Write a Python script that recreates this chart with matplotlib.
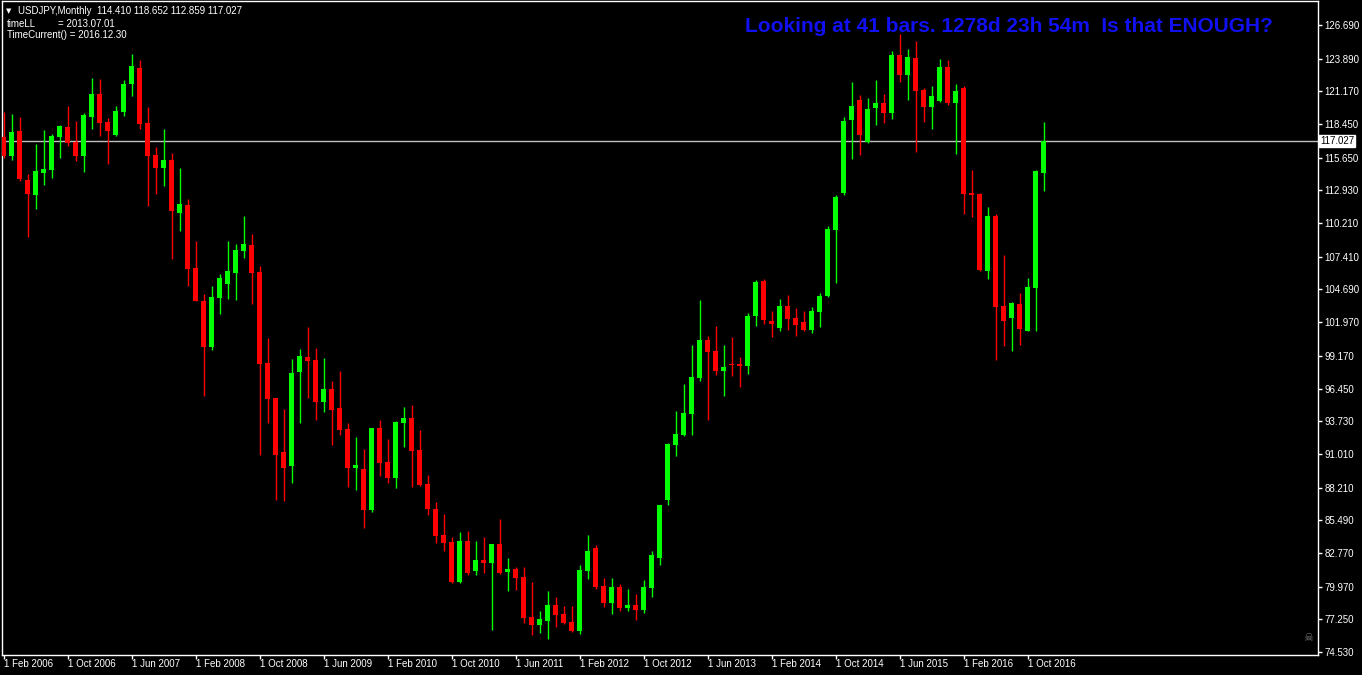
import matplotlib
matplotlib.use("Agg")
import matplotlib.pyplot as plt
import matplotlib.transforms as mtransforms
import numpy as np

# ---------------- data (USDJPY monthly, Feb 2006 .. Dec 2016) ----------------
opens = [117.35, 115.79, 117.87, 113.80, 112.55, 114.38, 114.63, 117.37, 118.20, 116.96,
         115.79, 119.04, 120.95, 118.62, 117.54, 119.45, 121.78, 123.11, 118.54, 115.87,
         114.79, 115.46, 111.05, 111.72, 106.48, 103.73, 99.90, 103.98, 105.14, 106.06,
         107.89, 108.39, 106.14, 98.57, 95.66, 91.17, 90.00, 97.82, 99.07, 98.82,
         95.33, 96.41, 94.83, 93.08, 89.87, 89.75, 86.34, 93.17, 90.34, 89.01,
         93.58, 94.00, 91.33, 88.51, 86.43, 84.26, 83.68, 80.35, 83.76, 81.27,
         82.18, 81.93, 83.51, 81.19, 81.44, 80.77, 77.44, 76.78, 77.11, 78.44,
         77.69, 77.03, 76.28, 81.27, 83.18, 80.02, 78.61, 79.94, 78.19, 78.44,
         78.02, 79.85, 82.35, 87.18, 91.75, 92.58, 94.33, 97.32, 100.49, 99.57,
         97.91, 98.49, 98.49, 98.32, 102.48, 105.39, 102.07, 101.48, 103.31, 102.32,
         101.98, 101.32, 102.81, 104.15, 109.63, 112.71, 118.79, 120.45, 116.96, 119.79,
         120.20, 119.37, 124.19, 122.53, 123.94, 121.28, 119.87, 120.37, 123.20, 120.20,
         121.45, 112.71, 112.63, 106.23, 110.80, 103.31, 102.32, 103.48, 101.23, 104.81,
         114.410]
highs = [119.48, 119.29, 119.04, 114.30, 116.79, 117.95, 117.62, 118.37, 119.95, 118.70,
         119.37, 122.28, 122.20, 118.95, 119.95, 122.11, 124.28, 123.78, 119.87, 116.54,
         118.04, 116.04, 114.79, 112.22, 108.72, 104.31, 104.98, 105.98, 108.72, 108.47,
         110.80, 109.30, 106.64, 100.65, 95.70, 94.75, 98.91, 99.74, 101.57, 99.82,
         98.99, 97.08, 97.91, 93.58, 92.42, 91.42, 93.20, 93.83, 92.25, 93.75,
         94.91, 95.08, 93.00, 89.25, 87.01, 86.01, 84.10, 84.51, 84.60, 83.76,
         84.10, 83.55, 85.59, 82.35, 81.60, 81.60, 80.35, 77.94, 79.60, 79.11,
         78.36, 78.36, 81.77, 84.26, 83.43, 80.69, 80.69, 80.19, 79.77, 79.36,
         80.52, 82.93, 86.80, 91.92, 94.58, 96.83, 100.07, 103.81, 100.82, 101.65,
         100.07, 100.74, 99.07, 102.73, 105.48, 105.56, 102.90, 103.90, 104.23, 103.15,
         102.90, 103.23, 104.40, 109.97, 112.55, 119.04, 121.95, 120.87, 120.62, 122.11,
         120.95, 124.53, 125.94, 124.69, 125.36, 121.45, 121.62, 123.86, 123.78, 121.78,
         121.62, 114.62, 112.71, 111.55, 110.97, 107.56, 103.65, 104.40, 105.64, 114.62,
         118.652]
lows = [115.60, 115.46, 113.71, 109.08, 111.38, 113.38, 113.96, 115.62, 116.62, 115.38,
        114.46, 118.04, 117.46, 115.13, 117.46, 119.12, 120.78, 118.04, 111.63, 112.63,
        113.30, 107.22, 109.55, 104.98, 103.70, 95.83, 99.65, 102.65, 103.90, 103.81,
        107.31, 103.48, 90.92, 93.58, 87.17, 87.09, 88.59, 93.58, 95.66, 93.83,
        94.50, 91.75, 92.58, 88.26, 88.03, 84.87, 86.18, 89.17, 88.59, 88.20,
        91.58, 88.26, 88.34, 85.93, 83.60, 82.93, 80.27, 80.30, 80.94, 80.94,
        81.10, 76.36, 81.05, 79.60, 79.69, 76.94, 75.95, 76.11, 75.61, 76.61,
        76.86, 76.19, 76.03, 80.60, 79.77, 78.27, 77.69, 77.94, 77.94, 77.19,
        77.77, 79.11, 81.77, 86.76, 90.84, 92.50, 92.58, 97.07, 93.83, 97.57,
        95.83, 97.49, 96.57, 97.66, 101.65, 101.82, 100.74, 101.23, 101.32, 100.82,
        101.23, 101.07, 101.57, 104.10, 105.23, 112.55, 115.54, 115.87, 116.87, 118.37,
        118.54, 118.87, 121.95, 120.45, 116.12, 118.62, 118.04, 120.28, 120.03, 115.96,
        110.97, 110.72, 106.25, 105.56, 98.82, 99.99, 99.57, 100.07, 101.20, 101.23,
        112.859]
closes = [115.79, 117.79, 113.88, 112.63, 114.54, 114.71, 117.46, 118.29, 116.87, 115.79,
          119.20, 120.95, 118.54, 117.87, 119.54, 121.78, 123.28, 118.45, 115.79, 114.79,
          115.46, 111.22, 111.80, 106.39, 103.73, 99.90, 104.06, 105.64, 106.23, 107.97,
          108.47, 106.06, 98.49, 95.58, 90.92, 89.84, 97.74, 99.15, 98.74, 95.33,
          96.41, 94.66, 93.00, 89.84, 90.06, 86.34, 93.17, 90.25, 89.01, 93.66,
          94.00, 91.25, 88.42, 86.43, 84.18, 83.60, 80.35, 83.76, 81.10, 82.18,
          81.93, 83.51, 81.10, 81.44, 80.69, 77.36, 76.78, 77.28, 78.44, 77.61,
          76.94, 76.28, 81.35, 82.93, 79.94, 78.61, 79.94, 78.19, 78.44, 78.02,
          79.94, 82.60, 86.76, 91.83, 92.66, 94.41, 97.41, 100.49, 99.49, 97.91,
          98.24, 98.41, 98.32, 102.48, 105.31, 102.15, 101.82, 103.31, 102.23, 101.73,
          101.32, 102.90, 104.15, 109.72, 112.38, 118.70, 119.95, 117.54, 119.70, 120.20,
          119.37, 124.19, 122.53, 124.03, 121.20, 119.87, 120.78, 123.20, 120.20, 121.20,
          112.63, 112.55, 106.31, 110.80, 103.23, 102.07, 103.56, 101.40, 104.90, 114.54,
          117.027]

x_tick_index = [0, 8, 16, 24, 32, 40, 48, 56, 64, 72, 80, 88, 96, 104, 112, 120, 128]
x_tick_labels = ["1 Feb 2006", "1 Oct 2006", "1 Jun 2007", "1 Feb 2008", "1 Oct 2008",
                 "1 Jun 2009", "1 Feb 2010", "1 Oct 2010", "1 Jun 2011", "1 Feb 2012",
                 "1 Oct 2012", "1 Jun 2013", "1 Feb 2014", "1 Oct 2014", "1 Jun 2015",
                 "1 Feb 2016", "1 Oct 2016"]
y_ticks = [126.690, 123.890, 121.170, 118.450, 115.650, 112.930, 110.210, 107.410,
           104.690, 101.970, 99.170, 96.450, 93.730, 91.010, 88.210, 85.490, 82.770,
           79.970, 77.250, 74.530]
current_price = 117.027
header = "USDJPY,Monthly  114.410 118.652 112.859 117.027"
title_text = "Looking at 41 bars. 1278d 23h 54m  Is that ENOUGH?"

# ---------------- figure ----------------
W, H = 1362, 675
fig = plt.figure(figsize=(W / 100, H / 100), dpi=100, facecolor="black")

def px(x, y):
    return x / W, 1 - y / H

ax_l, ax_r, ax_t, ax_b = 2, 1318, 1, 655
ax = fig.add_axes([ax_l / W, 1 - ax_b / H, (ax_r - ax_l) / W, (ax_b - ax_t) / H])
ax.set_facecolor("black")

o = np.array(opens); h = np.array(highs); l = np.array(lows); c = np.array(closes)
x = np.arange(len(o))
up = c >= o
cols = np.where(up, "#00FF00", "#FF0000")

ax.vlines(x, l, h, colors=cols, linewidth=1.0, zorder=2)
body_bottom = np.minimum(o, c)
body_h = np.maximum(np.abs(c - o), 0.09)
ax.bar(x, body_h, bottom=body_bottom, width=0.625, color=cols, linewidth=0, zorder=3)

ax.axhline(current_price, color="#C0C0C0", linewidth=1.0, zorder=1)

ax.set_xlim(-0.19, 164.3)
ax.set_ylim(74.28, 128.69)

for s in ax.spines.values():
    s.set_color("#FFFFFF")
    s.set_linewidth(1.0)

ax.set_xticks(x_tick_index)
ax.set_xticklabels(x_tick_labels, color="white", fontsize=7, family="Liberation Sans")
for t in ax.get_xticklabels():
    t.set_ha("left")
ax.tick_params(axis="x", colors="white", length=3, width=1.0, pad=0.2)

ax.yaxis.tick_right()
ax.set_yticks(y_ticks)
ax.set_yticklabels(["%.3f" % v for v in y_ticks], color="white", fontsize=7,
                   family="Liberation Sans")
ax.tick_params(axis="y", colors="white", length=3, width=1.0, pad=1.5)

# current price box
trans = mtransforms.blended_transform_factory(ax.transAxes, ax.transData)
ax.text(1.0015, current_price, "%.3f" % current_price, transform=trans, ha="left",
        va="center", fontsize=7, family="Liberation Sans", color="black",
        bbox=dict(boxstyle="square,pad=0.12", facecolor="white", edgecolor="white"),
        zorder=5, clip_on=False)

# header texts
fig.text(*px(6, 11), "\u25BC", color="white", fontsize=5, family="DejaVu Sans",
         ha="left", va="center")
fig.text(*px(18, 11), header, color="white", fontsize=7, family="Liberation Sans",
         ha="left", va="center")
fig.text(*px(7, 24), "timeLL", color="white", fontsize=7, family="Liberation Sans",
         ha="left", va="center")
fig.text(*px(58, 24), "= 2013.07.01", color="white", fontsize=7, family="Liberation Sans",
         ha="left", va="center")
fig.text(*px(7, 35), "TimeCurrent() = 2016.12.30", color="white", fontsize=7,
         family="Liberation Sans", ha="left", va="center")

fig.text(*px(1009, 26), title_text, color="#1010F0", fontsize=15, fontweight="bold",
         family="Liberation Sans", ha="center", va="center")

# skull icon
fig.text(*px(1308, 638), "\u2620", color="#808080", fontsize=8, family="DejaVu Sans",
         ha="center", va="center")

fig.savefig("out.png", dpi=100, facecolor="black")
